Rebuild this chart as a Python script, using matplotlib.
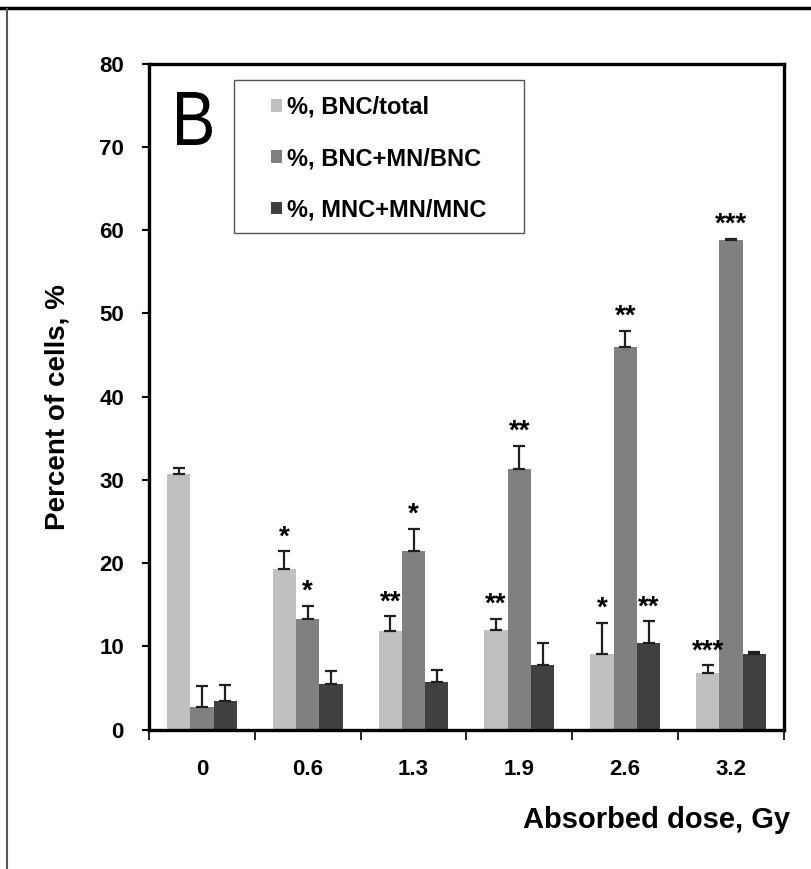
import matplotlib
matplotlib.use("Agg")
import matplotlib.pyplot as plt
import numpy as np
from matplotlib.lines import Line2D
from matplotlib.patches import Rectangle, PathPatch
from matplotlib.textpath import TextPath
from matplotlib.font_manager import FontProperties
from matplotlib.transforms import Affine2D, IdentityTransform

plt.rcParams["font.family"] = ["Liberation Sans", "DejaVu Sans"]

doses = ["0", "0.6", "1.3", "1.9", "2.6", "3.2"]
series_names = ["%, BNC/total", "%, BNC+MN/BNC", "%, MNC+MN/MNC"]
colors = ["#c0c0c0", "#808080", "#404040"]

bnc_total = [30.7, 19.3, 11.8, 12.0, 9.1, 6.8]
bnc_total_err = [0.7, 2.1, 1.8, 1.3, 3.7, 0.9]
bnc_mn = [2.7, 13.3, 21.4, 31.3, 46.0, 58.8]
bnc_mn_err = [2.5, 1.6, 2.7, 2.8, 1.9, 0.2]
mnc_mn = [3.4, 5.5, 5.7, 7.8, 10.4, 9.1]
mnc_mn_err = [2.0, 1.5, 1.5, 2.6, 2.6, 0.2]

# significance marks: (group, series, label)
stars = [
    (1, 0, "*"), (1, 1, "*"),
    (2, 0, "**"), (2, 1, "*"),
    (3, 0, "**"), (3, 1, "**"),
    (4, 0, "*"), (4, 1, "**"), (4, 2, "**"),
    (5, 0, "***"), (5, 1, "***"),
]

values = [bnc_total, bnc_mn, mnc_mn]
errors = [bnc_total_err, bnc_mn_err, mnc_mn_err]

fig = plt.figure(figsize=(8.11, 8.69), dpi=100)
ax = fig.add_axes([0.1837, 0.1605, 0.783, 0.766])

x = np.arange(len(doses))
w = 0.22
tops = {}
for k in range(3):
    xs = x + (k - 1) * w
    ax.bar(xs, values[k], width=w, color=colors[k], label=series_names[k], zorder=2)
    ax.errorbar(xs, values[k], yerr=[np.zeros(len(doses)), errors[k]], fmt="none",
                ecolor="#202020", elinewidth=1.6, capsize=4, capthick=1.6, zorder=3)
    for i in range(len(doses)):
        tops[(i, k)] = (xs[i], values[k][i] + errors[k][i])

for i, k, lab in stars:
    xx, yy = tops[(i, k)]
    ax.annotate(lab, xy=(xx, yy), xytext=(0, 5), textcoords="offset points",
                ha="center", va="baseline", fontsize=20, fontweight="bold")

ax.set_xlim(-0.5, len(doses) - 0.5)
ax.set_ylim(0, 80)
ax.set_yticks(np.arange(0, 81, 10))
ax.tick_params(axis="y", labelsize=16, length=5, width=1.5, pad=13)
for t in ax.get_yticklabels():
    t.set_fontweight("bold")

ax.set_xticks(np.arange(-0.5, len(doses), 1.0))
ax.set_xticklabels([])
ax.set_xticks(x, minor=True)
ax.set_xticklabels(doses, minor=True, fontsize=16, fontweight="bold")
ax.tick_params(axis="x", which="major", length=7, width=1.2)
ax.tick_params(axis="x", which="minor", length=0, pad=21)

for s in ax.spines.values():
    s.set_linewidth(2.4)

ax.set_ylabel("Percent of cells, %", fontsize=20, fontweight="bold")
ax.yaxis.set_label_coords(-0.124, 0.484)
fig.text(0.974, 1 - 828 / 869, "Absorbed dose, Gy", ha="right", va="baseline",
         fontsize=21, fontweight="bold")

# panel letter: a slightly condensed "B" (text path squeezed into its box)
bpath = TextPath((0, 0), "B", size=74, prop=FontProperties(family="Liberation Sans"))
ext = bpath.get_extents()
bx0, by0, bx1, by1 = 177, 869 - 145, 212, 869 - 92
tr = (Affine2D().translate(-ext.x0, -ext.y0)
      .scale((bx1 - bx0) / ext.width, (by1 - by0) / ext.height)
      .translate(bx0, by0))
fig.add_artist(PathPatch(tr.transform_path(bpath), transform=IdentityTransform(),
                         facecolor="black", edgecolor="none"))

# legend: frame drawn separately so the side padding can differ from the top
ax.add_patch(Rectangle((0.134, 0.746), 0.4566, 0.230, transform=ax.transAxes,
                       fill=False, edgecolor="#555555", linewidth=1.0, zorder=4))
leg = ax.legend(loc="upper left", bbox_to_anchor=(0.192, 0.952),
                prop={"weight": "bold", "size": 17}, frameon=False,
                handlelength=0.45, handleheight=0.45, handletextpad=0.25,
                labelspacing=1.2, borderpad=0, borderaxespad=0)

# page border lines
fig.add_artist(Line2D([0, 1], [0.9905, 0.9905], transform=fig.transFigure, color="black", linewidth=2.5))
fig.add_artist(Line2D([0.0086, 0.0086], [0, 0.99], transform=fig.transFigure, color="#555555", linewidth=1.5))

fig.savefig("out.png", dpi=100)
